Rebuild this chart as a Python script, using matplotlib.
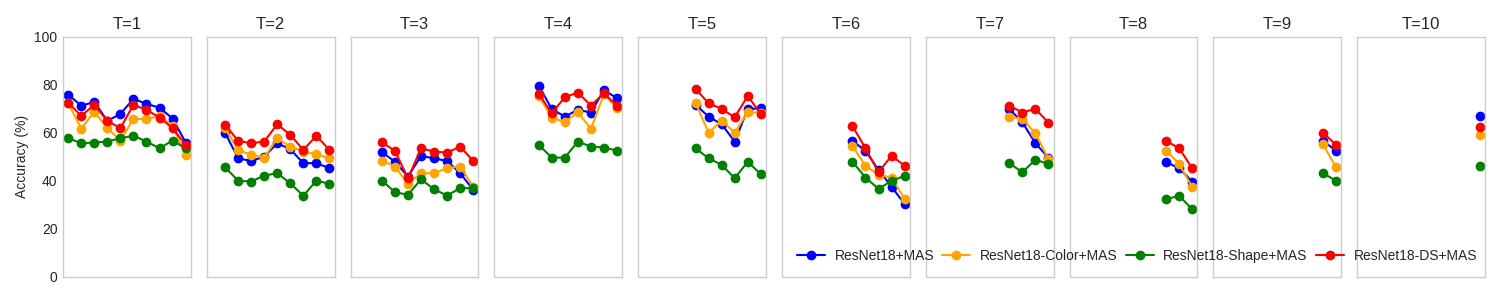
import numpy as np
import matplotlib
matplotlib.use("Agg")
import matplotlib.pyplot as plt

plt.style.use("seaborn-v0_8-whitegrid")
plt.rcParams["font.family"] = ["Liberation Sans", "DejaVu Sans"]

# accuracy (%) per task T, evaluated from task T-1 to task 9
resnet_mas = [
    [76.0, 71.3, 72.9, 65.0, 67.9, 74.2, 72.1, 70.5, 66.0, 56.0],
    [60.1, 49.4, 48.3, 50.1, 55.7, 53.2, 47.4, 47.4, 45.3],
    [52.0, 48.0, 41.8, 50.4, 49.4, 48.3, 43.2, 36.3],
    [79.7, 69.9, 66.8, 69.6, 68.5, 77.9, 74.4],
    [71.7, 66.8, 63.6, 56.4, 69.9, 70.3],
    [56.7, 52.5, 44.6, 37.6, 30.3],
    [70.0, 64.5, 55.7, 49.7],
    [47.8, 45.3, 39.7],
    [56.7, 52.6],
    [67.1],
]
color_mas = [
    [72.4, 61.7, 68.9, 62.0, 56.8, 65.8, 65.8, 67.0, 63.0, 50.6],
    [62.0, 52.9, 50.8, 49.7, 57.8, 54.3, 52.2, 51.1, 49.4],
    [48.5, 46.0, 38.8, 43.2, 43.2, 45.3, 46.0, 37.6],
    [75.5, 66.4, 64.4, 68.6, 61.7, 76.1, 70.3],
    [72.4, 60.1, 65.1, 60.1, 68.6, 68.5],
    [54.6, 46.3, 42.5, 41.4, 32.5],
    [66.8, 65.8, 59.9, 49.2],
    [52.6, 47.1, 37.4],
    [55.3, 45.7],
    [59.2],
]
shape_mas = [
    [57.8, 55.7, 56.0, 56.4, 57.8, 58.8, 56.4, 53.6, 56.8, 53.6],
    [45.7, 40.1, 39.7, 42.2, 43.2, 39.0, 33.8, 40.1, 38.8],
    [40.1, 35.3, 34.2, 40.7, 36.5, 33.9, 37.0, 37.0],
    [55.0, 49.7, 49.7, 56.4, 54.3, 53.9, 52.6],
    [53.6, 49.4, 46.7, 41.1, 48.0, 42.8],
    [48.0, 41.4, 36.7, 40.0, 42.1],
    [47.4, 43.6, 48.8, 47.1],
    [32.4, 33.8, 28.2],
    [43.2, 40.1],
    [46.3],
]
ds_mas = [
    [72.6, 67.1, 71.7, 65.0, 62.0, 71.7, 69.6, 66.4, 62.0, 55.0],
    [63.5, 56.7, 55.7, 56.4, 63.6, 59.2, 52.9, 58.8, 52.9],
    [56.1, 52.5, 41.1, 53.6, 52.2, 51.8, 54.3, 48.3],
    [76.3, 68.2, 74.9, 76.8, 71.4, 76.5, 71.3],
    [78.3, 72.4, 70.0, 66.5, 75.4, 67.8],
    [62.9, 53.6, 43.6, 50.5, 46.3],
    [71.4, 68.5, 70.0, 64.3],
    [56.7, 53.6, 45.3],
    [60.1, 55.0],
    [62.5],
]

series = [
    ("ResNet18+MAS", resnet_mas, "blue"),
    ("ResNet18-Color+MAS", color_mas, "orange"),
    ("ResNet18-Shape+MAS", shape_mas, "green"),
    ("ResNet18-DS+MAS", ds_mas, "red"),
]
n_tasks = 10

fig, axes = plt.subplots(1, n_tasks, figsize=(15, 3), dpi=100, sharey=True)
fig.subplots_adjust(left=0.042, right=0.99, top=0.877, bottom=0.077, wspace=0.125)

for t, ax in enumerate(axes):
    for name, data, color in series:
        vals = data[t]
        x = np.arange(t, t + len(vals))
        ax.plot(x, vals, marker="o", color=color, markersize=6, linewidth=1.5, label=name)
    ax.set_title(f"T={t + 1}", fontsize=12)
    ax.set_xlim(-0.4, 9.4)
    ax.set_ylim(0, 100)
    ax.set_xticks([])
    ax.grid(False)
    for s in ax.spines.values():
        s.set_color("#cccccc")
        s.set_linewidth(1.0)
    ax.tick_params(axis="y", labelsize=10, length=0, pad=4)

axes[0].set_ylabel("Accuracy (%)", fontsize=10)

handles, labels = axes[0].get_legend_handles_labels()
fig.legend(handles, labels, loc="center right", bbox_to_anchor=(0.993, 0.147),
           ncol=4, frameon=False, fontsize=10, columnspacing=0.6,
           handletextpad=0.7)

fig.savefig("out.png", dpi=100)
